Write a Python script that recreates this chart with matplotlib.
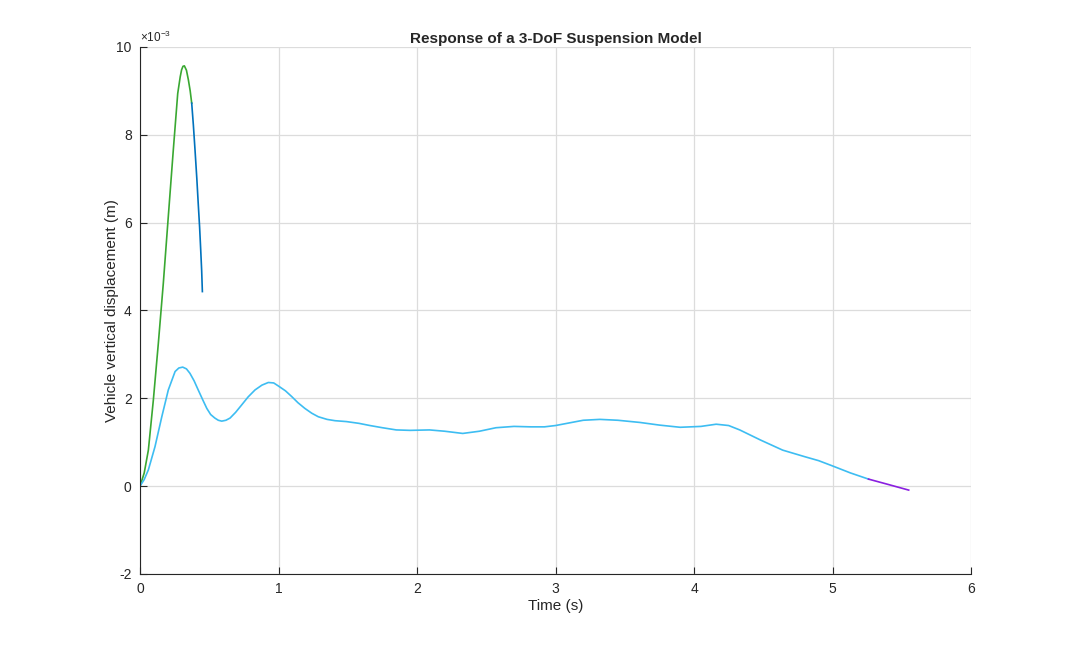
import matplotlib
matplotlib.use("Agg")
import matplotlib.pyplot as plt

# vehicle displacement, values in units of 1e-3 m
t_green = [0.0, 0.03, 0.06, 0.096, 0.132, 0.168, 0.204, 0.24, 0.272, 0.29, 0.30, 0.31, 0.32,
           0.335, 0.349, 0.362, 0.373]
y_green = [0.0, 0.3, 0.82, 1.96, 3.25, 4.62, 6.14, 7.65, 8.94, 9.32, 9.48, 9.56, 9.57,
           9.47, 9.25, 9.0, 8.72]

t_blue = [0.373, 0.385, 0.397, 0.41, 0.42, 0.43, 0.438, 0.445, 0.45]
y_blue = [8.72, 8.22, 7.65, 7.0, 6.44, 5.9, 5.38, 4.9, 4.43]

t_cyan = [0.0, 0.03, 0.06, 0.108, 0.157, 0.204, 0.253, 0.28, 0.308, 0.335, 0.36, 0.39, 0.42,
          0.452, 0.482, 0.51, 0.54, 0.565, 0.59, 0.62, 0.65, 0.69, 0.734, 0.78, 0.83, 0.88,
          0.926, 0.965, 0.999, 1.05, 1.095, 1.14, 1.19, 1.24, 1.287, 1.35, 1.408, 1.49, 1.58,
          1.66, 1.75, 1.85, 1.95, 2.09, 2.2, 2.33, 2.45, 2.57, 2.7, 2.82, 2.92, 3.0, 3.1, 3.2,
          3.32, 3.45, 3.61, 3.75, 3.9, 4.05, 4.16, 4.25, 4.33, 4.48, 4.64, 4.8, 4.9, 5.0, 5.13, 5.26]
y_cyan = [0.0, 0.15, 0.37, 0.9, 1.58, 2.19, 2.61, 2.69, 2.71, 2.67, 2.57, 2.4, 2.19,
          1.97, 1.77, 1.63, 1.55, 1.5, 1.48, 1.5, 1.55, 1.68, 1.85, 2.03, 2.19, 2.3,
          2.36, 2.35, 2.28, 2.17, 2.04, 1.9, 1.77, 1.66, 1.58, 1.52, 1.49, 1.47, 1.43,
          1.38, 1.33, 1.28, 1.27, 1.28, 1.25, 1.2, 1.25, 1.33, 1.36, 1.35, 1.35, 1.38, 1.44, 1.5,
          1.52, 1.5, 1.45, 1.39, 1.34, 1.36, 1.41, 1.38, 1.28, 1.05, 0.82, 0.67, 0.58, 0.46, 0.3, 0.16]

t_purple = [5.26, 5.4, 5.55]
y_purple = [0.16, 0.04, -0.09]

xticks = [0, 1, 2, 3, 4, 5, 6]
yticks = [-2, 0, 2, 4, 6, 8, 10]

plt.rcParams['font.family'] = ['Liberation Sans', 'DejaVu Sans']
plt.rcParams['axes.unicode_minus'] = False
plt.rcParams['mathtext.default'] = 'regular'

fig = plt.figure(figsize=(10.74, 6.46), dpi=100)
ax = fig.add_axes([0.1304, 0.1115, 0.7737, 0.8158])

ax.plot(t_green, y_green, color='#3aa832', lw=1.2)
ax.plot(t_blue, y_blue, color='#0072bd', lw=1.2)
ax.plot(t_cyan, y_cyan, color='#3dbdf2', lw=1.2)
ax.plot(t_purple, y_purple, color='#8a1fe0', lw=1.2)

ax.set_xlim(0, 6)
ax.set_ylim(-2, 10)
ax.set_xticks(xticks)
ax.set_yticks(yticks)
ax.grid(True, color='#dcdcdc', lw=0.9)
ax.set_axisbelow(True)
for s in ['top', 'right']:
    ax.spines[s].set_visible(False)
for s in ['left', 'bottom']:
    ax.spines[s].set_color('#262626')
ax.tick_params(direction='in', length=5, labelsize=10, colors='#262626', pad=6)

ax.set_xlabel('Time (s)', fontsize=11, color='#262626', labelpad=2)
ax.set_ylabel('Vehicle vertical displacement (m)', fontsize=11, color='#262626', labelpad=-2)
ax.set_title('Response of a 3-DoF Suspension Model', fontsize=11, fontweight='bold', color='#262626', pad=3)
ax.text(0, 1.004, r'$\times10^{-3}$', transform=ax.transAxes, fontsize=8.5, color='#262626', va='bottom')

fig.savefig('out.png', dpi=100)
